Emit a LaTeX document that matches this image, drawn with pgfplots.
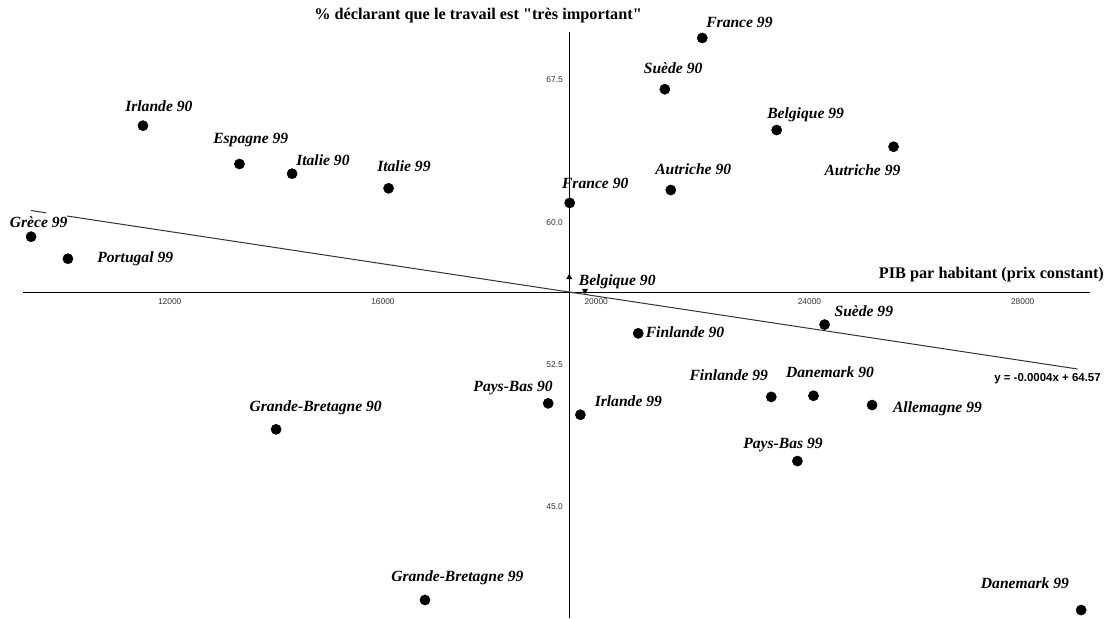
\documentclass[border=0pt]{standalone}
\usepackage{fontspec}
\setmainfont{Liberation Serif}[Ligatures=TeXOff]
\newfontfamily\arialf{Liberation Sans}
\usepackage{pgfplots}
\pgfplotsset{compat=1.18}
\begin{document}
\begin{tikzpicture}
\begin{axis}[
  at={(0,0)}, anchor=north west,
  scale only axis, width=834.75pt, height=463.5pt,
  xmin=8817, xmax=29694, ymin=39.15, ymax=71.71,
  hide axis, clip=false]
% axes crossing at the means
\draw[black, line width=0.9pt] (axis cs:9250,56.31) -- (axis cs:29260,56.31);
\draw[black, line width=0.9pt] (axis cs:19503,70.05) -- (axis cs:19503,39.15);
\pgfplotsinvokeforeach{12000,16000,20000,24000,28000}{
  \draw[black, line width=0.6pt] (axis cs:#1,56.31) ++(0,1.5pt) -- ++(0,-4.5pt);
  \node[font=\arialf\fontsize{6.3}{7}\selectfont, text=black!80, anchor=north, inner sep=0pt] at (axis cs:#1,56.31) [yshift=-4.5pt] {#1};
}
\pgfplotsinvokeforeach{45.0,52.5,60.0,67.5}{
  \draw[black, line width=0.6pt] (axis cs:19503,#1) ++(-2.25pt,0) -- ++(4.5pt,0);
  \node[font=\arialf\fontsize{6.3}{7}\selectfont, text=black!80, anchor=east, inner sep=0pt] at (axis cs:19503,#1) [xshift=-5pt] {#1};
}
% regression line
\addplot[black!80, line width=0.75pt] coordinates {(9398,60.62) (9679,60.50)};
\addplot[black!80, line width=0.75pt] coordinates {(10076,60.33) (29029,52.27)};
% countries
\addplot[only marks, mark=*, mark size=3.8pt, black] coordinates {
  (11499,65.09) (13309,63.07) (14296,62.56) (16106,61.79)
  (9400,59.24) (10091,58.08)
  (21990,69.71) (21287,67.01) (23385,64.86) (25578,63.98)
  (21399,61.70) (19503,61.02)
  (24284,54.61) (20789,54.15) (23284,50.80) (24076,50.86)
  (25175,50.37) (19704,49.86) (23774,47.42) (29097,39.57)
  (13996,49.09) (19100,50.46) (16789,40.10)
};
\addplot[only marks, mark=triangle*, mark size=2.2pt, black] coordinates {(19495,57.10)};
\addplot[only marks, mark=triangle*, mark size=2.2pt, black, mark options={rotate=180}] coordinates {(19790,56.40)};
\end{axis}
\begin{scope}[x=0.75pt, y=-0.75pt]
\begin{scope}[every node/.style={anchor=base west, inner sep=0pt, font=\fontsize{11.7}{14}\selectfont\bfseries\itshape}]
\node at (125,111) {Irlande 90};
\node at (213,143) {Espagne 99};
\node at (296,165) {Italie 90};
\node at (377,171) {Italie 99};
\node at (9.6,227) {Grèce 99};
\node at (97,262) {Portugal 99};
\node at (706,27) {France 99};
\node at (643.6,73) {Suède 90};
\node at (767,118) {Belgique 99};
\node at (655,174) {Autriche 90};
\node at (824.3,175) {Autriche 99};
\node at (561.8,188) {France 90};
\node at (578.6,285) {Belgique 90};
\node at (834.3,316) {Suède 99};
\node at (645.5,337) {Finlande 90};
\node at (689.3,380) {Finlande 99};
\node at (785.8,377) {Danemark 90};
\node at (892.8,412) {Allemagne 99};
\node at (594.5,406) {Irlande 99};
\node at (743.1,448) {Pays-Bas 99};
\node at (980.7,588) {Danemark 99};
\node at (249.3,411) {Grande-Bretagne 90};
\node at (473.2,391) {Pays-Bas 90};
\node at (391,581) {Grande-Bretagne 99};
\end{scope}
\node[anchor=base west, inner sep=0pt, font=\fontsize{12.2}{14}\selectfont\bfseries] at (314,19.5) {\% déclarant que le travail est "très important"};
\node[anchor=base west, inner sep=0pt, font=\fontsize{12.2}{14}\selectfont\bfseries] at (878.6,278.5) {PIB par habitant (prix constant)};
\node[anchor=base west, inner sep=0pt, font=\arialf\fontsize{8.6}{10}\selectfont\bfseries] at (994,381) {y = -0.0004x + 64.57};
\end{scope}
\pgfresetboundingbox
\path (0,0) rectangle (834.75pt,-463.5pt);
\end{tikzpicture}
\end{document}
